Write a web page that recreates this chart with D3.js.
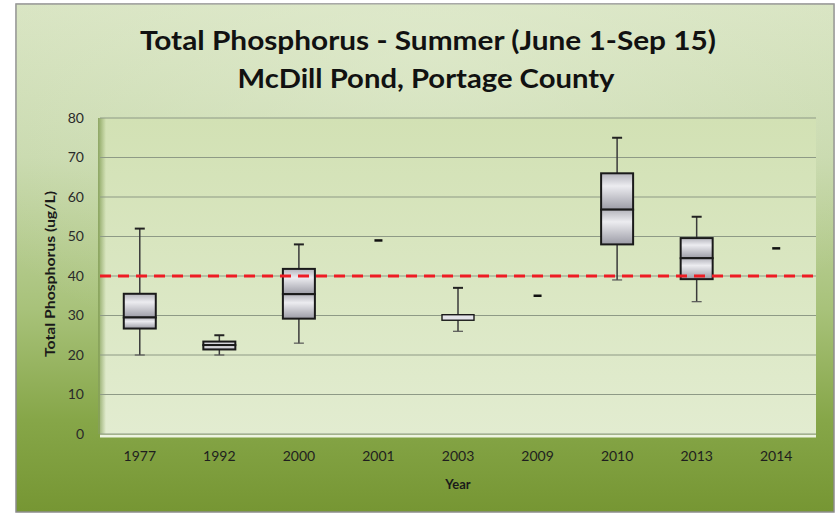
<!DOCTYPE html>
<html><head><meta charset="utf-8">
<script src="https://cdn.jsdelivr.net/npm/d3@7"></script>
<style>html,body{margin:0;padding:0;background:#fff;}svg{display:block;}</style>
</head><body>
<svg id="c" width="835" height="514"></svg>
<script>
const years = ['1977','1992','2000','2001','2003','2009','2010','2013','2014'];
const whiskerLow  = [20, 20, 23, 49, 26, 35, 39, 33.5, 47];
const q1          = [26.7, 21.4, 29.2, 49, 28.8, 35, 48, 39.2, 47];
const median      = [29.5, 22.5, 35.4, 49, 29.5, 35, 56.8, 44.5, 47];
const q3          = [35.5, 23.4, 41.8, 49, 30.2, 35, 66, 49.6, 47];
const whiskerHigh = [52, 25, 48, 49, 37, 35, 75, 55, 47];
const yTicks = [0,10,20,30,40,50,60,70,80];
const threshold = 40;
const titleLines = ['Total Phosphorus - Summer (June 1-Sep 15)', 'McDill Pond, Portage County'];

const svg = d3.select('#c');
const defs = svg.append('defs');

const bg = defs.append('linearGradient').attr('id','bg').attr('x1',0).attr('y1',0).attr('x2',0).attr('y2',1);
bg.append('stop').attr('offset','0%').attr('stop-color','#d8e4c2');
bg.append('stop').attr('offset','30%').attr('stop-color','#c8d9ad');
bg.append('stop').attr('offset','60%').attr('stop-color','#a8c27a');
bg.append('stop').attr('offset','82%').attr('stop-color','#86a648');
bg.append('stop').attr('offset','100%').attr('stop-color','#769633');

const bgR = defs.append('radialGradient').attr('id','bgr').attr('cx','50%').attr('cy','10%').attr('r','65%');
bgR.append('stop').attr('offset','0%').attr('stop-color','#e2ecd0').attr('stop-opacity',0.6);
bgR.append('stop').attr('offset','100%').attr('stop-color','#e2ecd0').attr('stop-opacity',0);

const pg = defs.append('linearGradient').attr('id','pg').attr('x1',0).attr('y1',0).attr('x2',0).attr('y2',1);
pg.append('stop').attr('offset','0%').attr('stop-color','#d2e1b4');
pg.append('stop').attr('offset','100%').attr('stop-color','#e2ecd0');

const leftEdge = defs.append('linearGradient').attr('id','le').attr('x1',0).attr('y1',0).attr('x2',1).attr('y2',0);
leftEdge.append('stop').attr('offset','0%').attr('stop-color','#86a05a').attr('stop-opacity',0.9);
leftEdge.append('stop').attr('offset','100%').attr('stop-color','#86a05a').attr('stop-opacity',0);

const bx = defs.append('linearGradient').attr('id','bx').attr('x1',0).attr('y1',0).attr('x2',0).attr('y2',1);
bx.append('stop').attr('offset','0%').attr('stop-color','#b4b4bc');
bx.append('stop').attr('offset','35%').attr('stop-color','#ececf0');
bx.append('stop').attr('offset','100%').attr('stop-color','#9c9ca6');

// outer chart area
svg.append('rect').attr('x',16).attr('y',4).attr('width',818).attr('height',508)
  .attr('fill','url(#bg)').attr('stroke','#8c8c8c').attr('stroke-width',1.5);
svg.append('rect').attr('x',16).attr('y',4).attr('width',818).attr('height',508).attr('fill','url(#bgr)');

const plot = {left:100, right:816, top:118, bottom:434};
const x = d3.scaleBand().domain(years).range([plot.left, plot.right]);
const y = d3.scaleLinear().domain([0,80]).range([plot.bottom, plot.top]);

svg.append('rect').attr('x',plot.left).attr('y',plot.top).attr('width',plot.right-plot.left).attr('height',plot.bottom-plot.top)
  .attr('fill','url(#pg)');
svg.append('rect').attr('x',plot.left-2).attr('y',plot.top).attr('width',8).attr('height',plot.bottom-plot.top)
  .attr('fill','url(#le)');
svg.append('line').attr('x1',plot.left).attr('x2',plot.right).attr('y1',plot.bottom+2).attr('y2',plot.bottom+2)
  .attr('stroke','#eef4e2').attr('stroke-width',3);

// gridlines
svg.append('g').selectAll('line').data(yTicks).join('line')
  .attr('x1',plot.left).attr('x2',plot.right)
  .attr('y1',d=>y(d)).attr('y2',d=>y(d))
  .attr('stroke','#8e9a86').attr('stroke-width',1.2);

// y axis labels
const yAxis = d3.axisLeft(y).tickValues(yTicks).tickSize(0).tickPadding(0);
const ga = svg.append('g').attr('transform',`translate(${plot.left-16},0)`).call(yAxis);
ga.select('.domain').remove();
ga.selectAll('text').attr('font-family','Lato, "Open Sans", sans-serif').attr('font-size',14).attr('fill','#2a2a2a');

// x axis labels
const xAxis = d3.axisBottom(x).tickSize(0).tickPadding(0);
const gx = svg.append('g').attr('transform',`translate(0,${plot.bottom+17})`).call(xAxis);
gx.select('.domain').remove();
gx.selectAll('text').attr('font-family','Lato, "Open Sans", sans-serif').attr('font-size',14).attr('fill','#1e1e1e');

const data = years.map((yr,i)=>({yr, lo:whiskerLow[i], q1:q1[i], med:median[i], q3:q3[i], hi:whiskerHigh[i]}));
const bw = 32, cap = 10;
const cx = d => x(d.yr) + x.bandwidth()/2;
const boxes = data.filter(d=>d.hi>d.lo);
const singles = data.filter(d=>d.hi===d.lo);
const thin = d => (y(d.q1)-y(d.q3)) < 6;

const g = svg.append('g');
// whiskers
g.selectAll('.wl').data(boxes).join('line')
  .attr('x1',cx).attr('x2',cx).attr('y1',d=>y(d.hi)).attr('y2',d=>y(d.lo))
  .attr('stroke','#3a3a3a').attr('stroke-width',1.5);
g.selectAll('.ct').data(boxes).join('line')
  .attr('x1',d=>cx(d)-cap/2).attr('x2',d=>cx(d)+cap/2).attr('y1',d=>y(d.hi)).attr('y2',d=>y(d.hi))
  .attr('stroke','#222').attr('stroke-width',2);
g.selectAll('.cb').data(boxes).join('line')
  .attr('x1',d=>cx(d)-cap/2).attr('x2',d=>cx(d)+cap/2).attr('y1',d=>y(d.lo)).attr('y2',d=>y(d.lo))
  .attr('stroke','#555').attr('stroke-width',1.2);
// box segments
g.selectAll('.bu').data(boxes.filter(d=>!thin(d))).join('rect')
  .attr('x',d=>cx(d)-bw/2).attr('width',bw)
  .attr('y',d=>y(d.q3)).attr('height',d=>y(d.med)-y(d.q3))
  .attr('fill','url(#bx)').attr('stroke','#1a1a1a').attr('stroke-width',2);
g.selectAll('.bl').data(boxes.filter(d=>!thin(d))).join('rect')
  .attr('x',d=>cx(d)-bw/2).attr('width',bw)
  .attr('y',d=>y(d.med)).attr('height',d=>y(d.q1)-y(d.med))
  .attr('fill','url(#bx)').attr('stroke','#1a1a1a').attr('stroke-width',2);
// very thin boxes: single outlined rect
g.selectAll('.bt').data(boxes.filter(thin)).join('rect')
  .attr('x',d=>cx(d)-bw/2).attr('width',bw)
  .attr('y',d=>y(d.q3)).attr('height',d=>y(d.q1)-y(d.q3))
  .attr('fill','#e4e4ea').attr('stroke','#1a1a1a').attr('stroke-width',1.4);
// single values
g.selectAll('.sg').data(singles).join('line')
  .attr('x1',d=>cx(d)-4).attr('x2',d=>cx(d)+4).attr('y1',d=>y(d.med)).attr('y2',d=>y(d.med))
  .attr('stroke','#111').attr('stroke-width',2.5);

// threshold line
svg.append('line').attr('x1',plot.left).attr('x2',plot.right).attr('y1',y(threshold)).attr('y2',y(threshold))
  .attr('stroke','#ee1c24').attr('stroke-width',3.2).attr('stroke-dasharray','11,7');

// titles
const tf = 'Lato, "Open Sans", sans-serif';
svg.append('text').attr('x',428).attr('y',50).attr('text-anchor','middle')
  .attr('font-family',tf).attr('font-weight','bold').attr('font-size',27).attr('fill','#111')
  .attr('textLength',576).attr('lengthAdjust','spacingAndGlyphs').text(titleLines[0]);
svg.append('text').attr('x',426).attr('y',88).attr('text-anchor','middle')
  .attr('font-family',tf).attr('font-weight','bold').attr('font-size',27).attr('fill','#111')
  .attr('textLength',377).attr('lengthAdjust','spacingAndGlyphs').text(titleLines[1]);

svg.append('text').attr('transform','translate(55,274) rotate(-90)').attr('text-anchor','middle')
  .attr('font-family',tf).attr('font-weight','bold').attr('font-size',13).attr('fill','#1a1a1a')
  .attr('textLength',166).attr('lengthAdjust','spacingAndGlyphs').text('Total Phosphorus (ug/L)');
svg.append('text').attr('x',458).attr('y',489).attr('text-anchor','middle')
  .attr('font-family',tf).attr('font-weight','bold').attr('font-size',13).attr('fill','#1a1a1a').text('Year');
</script>
</body></html>
